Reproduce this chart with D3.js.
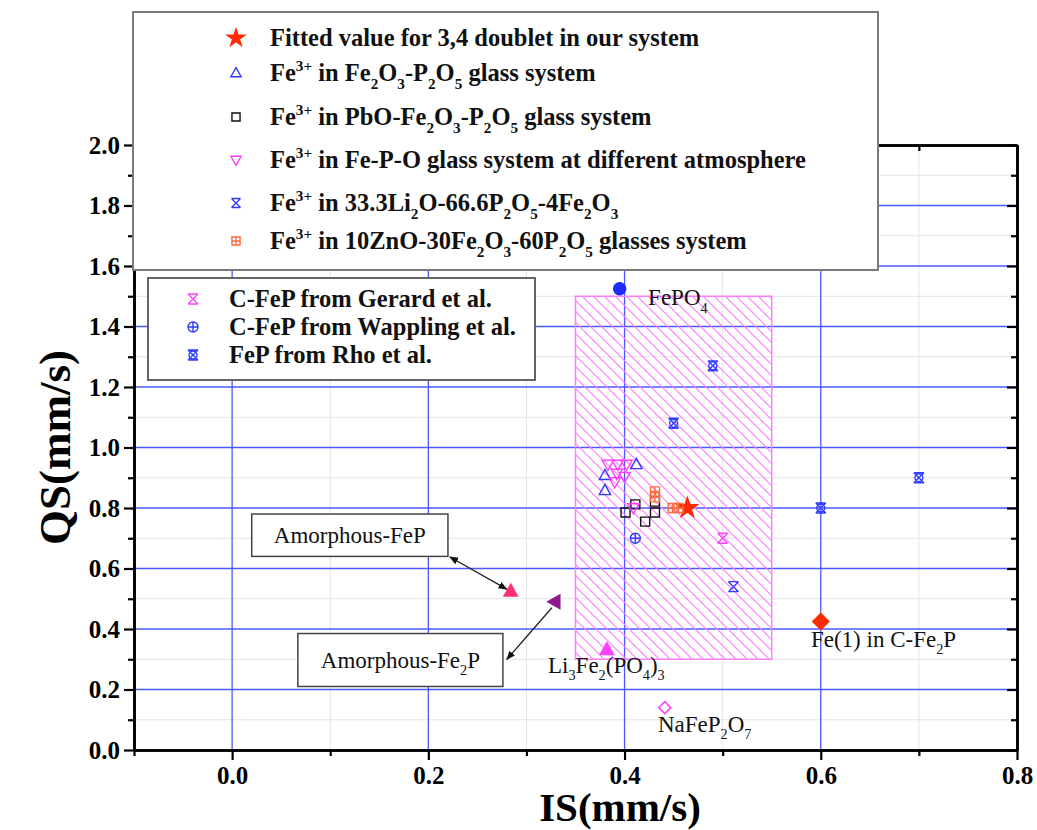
<!DOCTYPE html>
<html>
<head>
<meta charset="utf-8">
<script src="https://cdn.jsdelivr.net/npm/d3@7"></script>
<style>
  html, body { margin: 0; padding: 0; background: #fff; }
  text { font-family: "Liberation Serif", "Times New Roman", serif; }
</style>
</head>
<body>
<svg id="chart" width="1037" height="830"></svg>
<script>
// ---- data (IS, QS) in mm/s ----
const fitted34 = [[0.464, 0.80]];
const fe2o3P2o5 = [[0.412, 0.944], [0.380, 0.908], [0.380, 0.858]];
const pboGlass = [[0.401, 0.785], [0.411, 0.812], [0.431, 0.821], [0.431, 0.785], [0.421, 0.755]];
const fepoAtm = [[0.383, 0.944], [0.393, 0.944], [0.402, 0.944], [0.392, 0.914], [0.400, 0.904], [0.390, 0.886], [0.409, 0.80]];
const li2oGlass = [[0.511, 0.54]];
const znoGlass = [[0.431, 0.855], [0.431, 0.835], [0.449, 0.80], [0.455, 0.80]];
const gerard = [[0.500, 0.70]];
const wappling = [[0.411, 0.70]];
const rho = [[0.490, 1.27], [0.450, 1.08], [0.600, 0.80], [0.700, 0.90]];

// labelled reference compounds
const fePO4 = [0.395, 1.525];
const li3Fe2PO43 = [0.382, 0.332];
const naFeP2O7 = [0.441, 0.140];
const fe1CFe2P = [0.600, 0.425];
const amorphFeP = [0.284, 0.525];
const amorphFe2P = [0.329, 0.49];

// shaded range of Fe3+ in phosphate glasses
const hatchIS = [0.35, 0.55];
const hatchQS = [0.30, 1.50];

const xTicks = [0.0, 0.2, 0.4, 0.6, 0.8];
const xMinor = [-0.1, 0.1, 0.3, 0.5, 0.7];
const yTicks = [0.0, 0.2, 0.4, 0.6, 0.8, 1.0, 1.2, 1.4, 1.6, 1.8, 2.0];
const yMinor = [0.1, 0.3, 0.5, 0.7, 0.9, 1.1, 1.3, 1.5, 1.7, 1.9];

const legendTop = [
  "Fitted value for 3,4 doublet in our system",
  "Fe^{3+} in Fe_{2}O_{3}-P_{2}O_{5} glass system",
  "Fe^{3+} in PbO-Fe_{2}O_{3}-P_{2}O_{5} glass system",
  "Fe^{3+} in Fe-P-O glass system at different atmosphere",
  "Fe^{3+} in 33.3Li_{2}O-66.6P_{2}O_{5}-4Fe_{2}O_{3}",
  "Fe^{3+} in 10ZnO-30Fe_{2}O_{3}-60P_{2}O_{5} glasses system"
];
const legendBottom = [
  "C-FeP from Gerard et al.",
  "C-FeP from Wappling et al.",
  "FeP from Rho et al."
];

// ---- colours ----
const BLUE = "#2f3cff";
const MAGENTA = "#ff40ff";
const RED = "#ff2a00";
const ORANGE = "#ff6a3a";

const svg = d3.select("#chart");
const W = 1037, H = 830;
const plot = { left: 134, right: 1017, top: 145, bottom: 750 };

const x = d3.scaleLinear().domain([-0.1, 0.8]).range([plot.left, plot.right]);
const y = d3.scaleLinear().domain([0, 2.0]).range([plot.bottom, plot.top]);

svg.append("rect").attr("width", W).attr("height", H).attr("fill", "#fff");

// hatch pattern
const defs = svg.append("defs");
const pat = defs.append("pattern")
  .attr("id", "hatch")
  .attr("patternUnits", "userSpaceOnUse")
  .attr("width", 11).attr("height", 11);
pat.append("path")
  .attr("d", "M0,0 L11,11 M-2,9 L2,13 M9,-2 L13,2")
  .attr("stroke", "#ff80ff").attr("stroke-width", 1.2).attr("fill", "none");

defs.append("marker")
  .attr("id", "arrowHead")
  .attr("viewBox", "0 0 10 10")
  .attr("refX", 9).attr("refY", 5)
  .attr("markerWidth", 7).attr("markerHeight", 7)
  .attr("orient", "auto-start-reverse")
  .append("path")
  .attr("d", "M0,1 L10,5 L0,9 Z")
  .attr("fill", "#111");

// ---- grid ----
const grid = svg.append("g");
grid.selectAll(".gxm").data(xMinor.filter(v => v > -0.1)).enter().append("line")
  .attr("x1", d => x(d)).attr("x2", d => x(d))
  .attr("y1", plot.top).attr("y2", plot.bottom)
  .attr("stroke", "#e4e4e4").attr("stroke-width", 1);
grid.selectAll(".gym").data(yMinor).enter().append("line")
  .attr("x1", plot.left).attr("x2", plot.right)
  .attr("y1", d => y(d)).attr("y2", d => y(d))
  .attr("stroke", "#e4e4e4").attr("stroke-width", 1);
grid.selectAll(".gx").data(xTicks.filter(v => v < 0.8)).enter().append("line")
  .attr("x1", d => x(d)).attr("x2", d => x(d))
  .attr("y1", plot.top).attr("y2", plot.bottom)
  .attr("stroke", "#4b57ff").attr("stroke-width", 1.3);
grid.selectAll(".gy").data(yTicks.filter(v => v > 0 && v < 2)).enter().append("line")
  .attr("x1", plot.left).attr("x2", plot.right)
  .attr("y1", d => y(d)).attr("y2", d => y(d))
  .attr("stroke", "#4b57ff").attr("stroke-width", 1.3);

// ---- hatched region ----
svg.append("rect")
  .attr("x", x(hatchIS[0])).attr("y", y(hatchQS[1]))
  .attr("width", x(hatchIS[1]) - x(hatchIS[0]))
  .attr("height", y(hatchQS[0]) - y(hatchQS[1]))
  .attr("fill", "url(#hatch)")
  .attr("stroke", "#ff80ff").attr("stroke-width", 1.5);

// ---- marker shapes ----
const shapes = {
  star: s => d3.symbol(d3.symbolStar, s * s * 2.2)(),
  triUp: s => `M0,${-s} L${s * 0.95},${s * 0.7} L${-s * 0.95},${s * 0.7} Z`,
  triDown: s => `M0,${s} L${s * 0.95},${-s * 0.7} L${-s * 0.95},${-s * 0.7} Z`,
  triLeft: s => `M${-s},0 L${s * 0.7},${-s * 0.95} L${s * 0.7},${s * 0.95} Z`,
  square: s => `M${-s},${-s} H${s} V${s} H${-s} Z`,
  diamond: s => `M0,${-s} L${s},0 L0,${s} L${-s},0 Z`,
  circle: s => `M${s},0 A${s},${s} 0 1,1 ${-s},0 A${s},${s} 0 1,1 ${s},0 Z`,
  hourX: s => `M${-s},${-s} H${s} M${-s},${s} H${s} M${-s},${-s} L${s},${s} M${s},${-s} L${-s},${s}`,
  circlePlus: s => shapes.circle(s) + ` M${-s},0 H${s} M0,${-s} V${s}`,
  rhoMark: s => shapes.circle(s * 0.8) + ` M${-s},${-s} L${s},${s} M${s},${-s} L${-s},${s} M${-s},${-s} H${s} M${-s},${s} H${s}`,
  squarePlus: s => shapes.square(s) + ` M${-s},0 H${s} M0,${-s} V${s}`
};

const seriesList = [
  { data: fitted34, shape: "star", size: 7.5, fill: RED, stroke: RED },
  { data: fe2o3P2o5, shape: "triUp", size: 6, fill: "none", stroke: BLUE },
  { data: pboGlass, shape: "square", size: 4.5, fill: "none", stroke: "#111" },
  { data: fepoAtm, shape: "triDown", size: 6, fill: "none", stroke: MAGENTA },
  { data: li2oGlass, shape: "hourX", size: 5, fill: "none", stroke: BLUE },
  { data: znoGlass, shape: "squarePlus", size: 4.5, fill: "none", stroke: ORANGE },
  { data: gerard, shape: "hourX", size: 5, fill: "none", stroke: MAGENTA },
  { data: wappling, shape: "circlePlus", size: 5, fill: "none", stroke: BLUE },
  { data: rho, shape: "rhoMark", size: 5, fill: "none", stroke: BLUE }
];

const marks = svg.append("g");
seriesList.forEach(s => {
  marks.selectAll(null).data(s.data).enter().append("path")
    .attr("transform", d => `translate(${x(d[0])},${y(d[1])})`)
    .attr("d", shapes[s.shape](s.size))
    .attr("fill", s.fill).attr("stroke", s.stroke).attr("stroke-width", 1.4);
});

const refs = [
  { p: fePO4, shape: "circle", size: 6, fill: "#1a2cff", stroke: "#1a2cff" },
  { p: li3Fe2PO43, shape: "triUp", size: 7, fill: MAGENTA, stroke: MAGENTA },
  { p: naFeP2O7, shape: "diamond", size: 6, fill: "none", stroke: MAGENTA },
  { p: fe1CFe2P, shape: "diamond", size: 8, fill: RED, stroke: RED },
  { p: amorphFeP, shape: "triUp", size: 7, fill: "#ff2d7a", stroke: "#ff2d7a" },
  { p: amorphFe2P, shape: "triLeft", size: 7, fill: "#8e1a8e", stroke: "#8e1a8e" }
];
marks.selectAll(null).data(refs).enter().append("path")
  .attr("transform", d => `translate(${x(d.p[0])},${y(d.p[1])})`)
  .attr("d", d => shapes[d.shape](d.size))
  .attr("fill", d => d.fill).attr("stroke", d => d.stroke).attr("stroke-width", 1.5);

// ---- rich text (sub/superscripts) ----
function richText(sel, str, size) {
  const re = /([_^])\{([^}]*)\}/g;
  let last = 0, cur = 0, m;
  const add = (txt, off, fs) => {
    if (!txt) return;
    sel.append("tspan").attr("dy", off - cur).attr("font-size", fs).text(txt);
    cur = off;
  };
  while ((m = re.exec(str)) !== null) {
    add(str.slice(last, m.index), 0, size);
    if (m[1] === "_") add(m[2], size * 0.32, size * 0.62);
    else add(m[2], -size * 0.42, size * 0.62);
    last = re.lastIndex;
  }
  add(str.slice(last), 0, size);
  return sel;
}

// ---- annotations ----
const ann = svg.append("g").attr("fill", "#111");
const annFont = 23;
const annLabels = [
  { text: "FePO_{4}", at: [0.424, 1.47] },
  { text: "Li_{3}Fe_{2}(PO_{4})_{3}", at: [0.322, 0.256] },
  { text: "NaFeP_{2}O_{7}", at: [0.434, 0.061] },
  { text: "Fe(1) in C-Fe_{2}P", at: [0.590, 0.342] }
];
annLabels.forEach(a => {
  richText(ann.append("text").attr("x", x(a.at[0])).attr("y", y(a.at[1])).attr("font-size", annFont),
    a.text, annFont);
});

const boxes = [
  { text: "Amorphous-FeP", x0: 0.020, x1: 0.220, y0: 0.640, y1: 0.780 },
  { text: "Amorphous-Fe_{2}P", x0: 0.067, x1: 0.276, y0: 0.210, y1: 0.385 }
];
boxes.forEach(b => {
  svg.append("rect")
    .attr("x", x(b.x0)).attr("y", y(b.y1))
    .attr("width", x(b.x1) - x(b.x0)).attr("height", y(b.y0) - y(b.y1))
    .attr("fill", "#fff").attr("stroke", "#444").attr("stroke-width", 1.5);
  richText(svg.append("text")
    .attr("x", (x(b.x0) + x(b.x1)) / 2).attr("y", (y(b.y0) + y(b.y1)) / 2 + 8)
    .attr("text-anchor", "middle").attr("font-size", annFont).attr("fill", "#111"),
    b.text, annFont);
});

// arrows from boxes to points
svg.append("line")
  .attr("x1", x(0.222)).attr("y1", y(0.638))
  .attr("x2", x(amorphFeP[0]) - 4).attr("y2", y(amorphFeP[1]) - 2)
  .attr("stroke", "#222").attr("stroke-width", 1.3)
  .attr("marker-start", "url(#arrowHead)").attr("marker-end", "url(#arrowHead)");
svg.append("line")
  .attr("x1", x(amorphFe2P[0]) - 3).attr("y1", y(amorphFe2P[1]) + 6)
  .attr("x2", x(0.280)).attr("y2", y(0.300))
  .attr("stroke", "#222").attr("stroke-width", 1.3)
  .attr("marker-end", "url(#arrowHead)");

// ---- axes ----
const axes = svg.append("g");
function styleAxis(g, labels) {
  g.select(".domain").attr("stroke", "#000").attr("stroke-width", 2.6);
  g.selectAll(".tick line").attr("stroke", "#000").attr("stroke-width", 2.2);
  g.selectAll(".tick text").attr("font-family", "'Liberation Serif', serif")
    .attr("font-weight", "bold").attr("font-size", 25).attr("fill", "#000")
    .style("display", labels ? null : "none");
}
const fmt = d3.format(".1f");

function addAxis(axisFn, tx, ty, values, size, withLabels, pad) {
  const g = axes.append("g").attr("transform", `translate(${tx},${ty})`)
    .call(axisFn.tickValues(values).tickSize(size).tickSizeOuter(0)
      .tickPadding(pad || 3).tickFormat(withLabels ? fmt : ""));
  styleAxis(g, withLabels);
  return g;
}

addAxis(d3.axisBottom(x), 0, plot.bottom, xTicks, 10, true, 6);
addAxis(d3.axisBottom(x), 0, plot.bottom, xMinor, 6, false);
addAxis(d3.axisLeft(y), plot.left, 0, yTicks, 10, true, 4);
addAxis(d3.axisLeft(y), plot.left, 0, yMinor, 6, false);
// mirrored axes with inward ticks
addAxis(d3.axisBottom(x), 0, plot.top, xTicks, 10, false);
addAxis(d3.axisBottom(x), 0, plot.top, xMinor, 6, false);
addAxis(d3.axisLeft(y), plot.right, 0, yTicks, 10, false);
addAxis(d3.axisLeft(y), plot.right, 0, yMinor, 6, false);

// axis titles
svg.append("text")
  .attr("x", 620).attr("y", 821)
  .attr("text-anchor", "middle").attr("font-weight", "bold").attr("font-size", 41)
  .text("IS(mm/s)");
svg.append("text")
  .attr("transform", `translate(70,${(plot.top + plot.bottom) / 2}) rotate(-90)`)
  .attr("text-anchor", "middle").attr("font-weight", "bold").attr("font-size", 45)
  .text("QS(mm/s)");

// ---- legends ----
const legendSymbols = seriesList.slice(0, 6);
const legendSymbols2 = seriesList.slice(6);

const lg1 = svg.append("g");
lg1.append("rect").attr("x", 133).attr("y", 12).attr("width", 745).attr("height", 258)
  .attr("fill", "#fff").attr("stroke", "#7a7a7a").attr("stroke-width", 2);
const rows1 = [38, 73, 117, 160, 203, 241];
legendTop.forEach((t, i) => {
  const s = legendSymbols[i];
  lg1.append("path")
    .attr("transform", `translate(236,${rows1[i]})`)
    .attr("d", shapes[s.shape](s.shape === "star" ? 6.5 : s.size * 0.9))
    .attr("fill", s.fill).attr("stroke", s.stroke).attr("stroke-width", 1.4);
  richText(lg1.append("text").attr("x", 270).attr("y", rows1[i] + 8)
    .attr("font-weight", "bold").attr("font-size", 24.5).attr("fill", "#111"), t, 24.5);
});

const lg2 = svg.append("g");
lg2.append("rect").attr("x", 148).attr("y", 278).attr("width", 387).attr("height", 102)
  .attr("fill", "#fff").attr("stroke", "#555").attr("stroke-width", 1.8);
const rows2 = [299, 327, 355];
legendBottom.forEach((t, i) => {
  const s = legendSymbols2[i];
  lg2.append("path")
    .attr("transform", `translate(193,${rows2[i]})`)
    .attr("d", shapes[s.shape](s.size))
    .attr("fill", s.fill).attr("stroke", s.stroke).attr("stroke-width", 1.4);
  lg2.append("text").attr("x", 229).attr("y", rows2[i] + 8)
    .attr("font-weight", "bold").attr("font-size", 24.5).attr("fill", "#111").text(t);
});
</script>
</body>
</html>
